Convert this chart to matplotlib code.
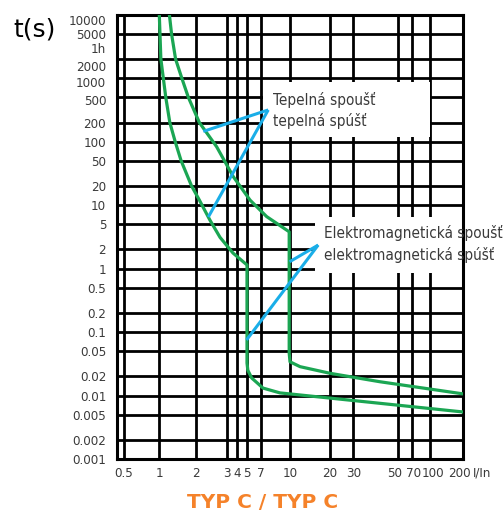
import numpy as np
import matplotlib
matplotlib.use("Agg")
import matplotlib.pyplot as plt
from matplotlib.patches import Rectangle
from matplotlib.transforms import ScaledTranslation

# ---------------- data ----------------
# non-uniform x grid of the original chart (I/In) and its relative positions
x_ticks = [0.5, 1, 2, 3, 4, 5, 7, 10, 20, 30, 50, 70, 100, 200]
x_tick_labels = ["0.5", "1", "2", "3", "4", "5", "7", "10", "20", "30", "50", "70", "100", "200"]
x_anchor_vals = [0.1, 0.4, 0.5, 1, 2, 3, 4, 5, 7, 10, 20, 30, 50, 70, 100, 200, 1000]
x_anchor_pos = [60.0, 117.3, 124.0, 159.3, 196.0, 227.0, 236.7, 247.0, 261.3, 290.0,
                330.0, 353.3, 397.7, 411.7, 430.0, 463.3, 560.0]

# horizontal grid values (s)
y_grid = [5000, 2000, 1000, 500, 200, 100, 50, 20, 10, 5, 2, 1, 0.5, 0.2, 0.1,
          0.05, 0.02, 0.01, 0.005, 0.002]
y_tick_vals = [8300, 5000, 3000, 1560, 870, 455, 200, 100, 50, 20, 10, 5, 2, 1, 0.5,
               0.2, 0.1, 0.05, 0.02, 0.01, 0.005, 0.002, 0.001]
y_tick_labels = ["10000", "5000", "1h", "2000", "1000", "500", "200", "100", "50", "20",
                 "10", "5", "2", "1", "0.5", "0.2", "0.1", "0.05", "0.02", "0.01",
                 "0.005", "0.002", "0.001"]

# lower tripping curve
low_x = [1.0, 1.03, 1.13, 1.22, 1.35, 1.51, 1.84, 2.09, 2.40, 2.74, 3.58, 5.0,
         5.0, 5.0, 5.1, 5.58, 7.15, 8.83, 10, 200]
low_t = [10000, 2000, 500, 200, 100, 50, 20, 12, 5.8, 3.1, 1.76, 1.14,
         0.067, 0.0325, 0.025, 0.0189, 0.0131, 0.011, 0.0106, 0.0055]

# upper tripping curve
up_x = [1.21, 1.26, 1.36, 1.53, 1.73, 2.09, 2.62, 3.62, 5.37, 7.48, 9.9,
        9.9, 10, 11.9, 20, 40.7, 200]
up_t = [10000, 5000, 2000, 1000, 500, 200, 83, 28, 12, 6.6, 3.8,
        0.0466, 0.034, 0.0285, 0.0224, 0.0165, 0.0106]

# ---------------- scale ----------------
lx = np.log10(x_anchor_vals)
px = np.array(x_anchor_pos)


def fwd(x):
    x = np.asarray(x, dtype=float)
    with np.errstate(divide="ignore", invalid="ignore"):
        lv = np.log10(np.clip(x, 1e-6, None))
    return np.interp(lv, lx, px)


def inv(p):
    p = np.asarray(p, dtype=float)
    return 10 ** np.interp(p, px, lx)


GREEN = "#1ba653"
BLUE = "#1aaee8"
ORANGE = "#f5822a"
GREY = "#3a3a3a"
FONT = dict(family="DejaVu Sans", fontstretch="condensed")

W, H = 503, 514
fig = plt.figure(figsize=(W / 100, H / 100), dpi=100)
L, R, T, B = 117.3, 463.3, 14.7, 459.0
ax = fig.add_axes([L / W, 1 - B / H, (R - L) / W, (B - T) / H])
ax.set_xscale("function", functions=(fwd, inv))
ax.set_yscale("log")
ax.set_xlim(0.4, 200)
ax.set_ylim(0.001, 10000)

for v in x_ticks[:-1]:
    ax.axvline(v, color="black", lw=2.0, zorder=1)
for v in y_grid:
    ax.axhline(v, color="black", lw=2.0, zorder=1)
for s in ax.spines.values():
    s.set_linewidth(2.2)
    s.set_color("black")

ax.set_xticks(x_ticks)
ax.set_xticklabels(x_tick_labels)
ax.xaxis.set_minor_locator(matplotlib.ticker.NullLocator())
ax.set_yticks(y_tick_vals)
ax.set_yticklabels(y_tick_labels)
ax.yaxis.set_minor_locator(matplotlib.ticker.NullLocator())
ax.tick_params(length=0, labelsize=9.5, colors=GREY, pad=8)
ax.tick_params(axis="x", pad=6)
for lab in ax.get_xticklabels() + ax.get_yticklabels():
    lab.set_family("DejaVu Sans")
    lab.set_fontstretch("condensed")
xl = ax.get_xticklabels()
for idx, dx in [(-1, -4), (-2, 3), (-3, 2), (-4, -3)]:
    xl[idx].set_transform(xl[idx].get_transform()
                          + ScaledTranslation(dx / 100, 0, fig.dpi_scale_trans))

ax.plot(low_x, low_t, color=GREEN, lw=2.3, zorder=3, solid_joinstyle="round")
ax.plot(up_x, up_t, color=GREEN, lw=2.3, zorder=3, solid_joinstyle="round")

# white label boxes (axes fraction)
ax.add_patch(Rectangle((0.421, 0.725), 0.483, 0.124, transform=ax.transAxes,
                       facecolor="white", edgecolor="none", zorder=2, clip_on=False))
ax.add_patch(Rectangle((0.571, 0.419), 0.6, 0.125, transform=ax.transAxes,
                       facecolor="white", edgecolor="none", zorder=2, clip_on=False))

ax.text(0.45, 0.784, "Tepelná spoušť\ntepelná spúšť", transform=ax.transAxes,
        fontsize=11, color=GREY, va="center", ha="left", linespacing=1.4,
        zorder=4, **FONT)
ax.text(0.597, 0.484, "Elektromagnetická spoušť\nelektromagnetická spúšť",
        transform=ax.transAxes, fontsize=11, color=GREY, va="center",
        ha="left", linespacing=1.4, zorder=4, clip_on=False, **FONT)

# pointer lines
for (x0, t0), (x1, t1) in [((7.63, 316), (2.2, 145)), ((7.63, 316), (2.35, 6.5)),
                           ((16.3, 2.35), (9.95, 1.28)), ((16.3, 2.35), (4.95, 0.075))]:
    ax.plot([x0, x1], [t0, t1], color=BLUE, lw=2.2, zorder=5, solid_capstyle="butt")

fig.text(13 / W, 1 - 29 / H, "t(s)", fontsize=18, ha="left", va="center", color="black")
fig.text(473 / W, 1 - 473 / H, "I/In", fontsize=9.5, ha="left", va="center",
         color=GREY, **FONT)
fig.text(262.5 / W, 1 - 503 / H, "TYP C / TYP C", fontsize=14.5, fontweight="bold",
         ha="center", va="center", color=ORANGE)

fig.savefig("out.png", dpi=100)
